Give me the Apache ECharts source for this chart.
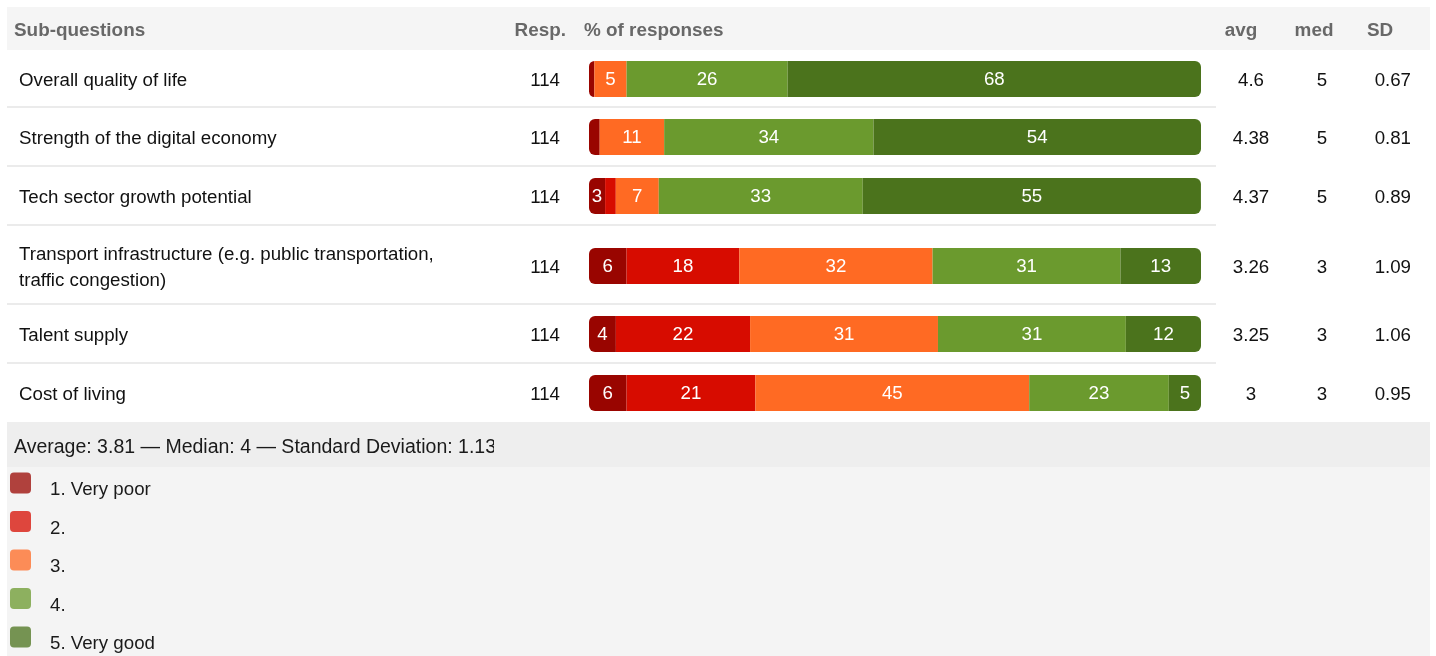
<!DOCTYPE html>
<html><head><meta charset="utf-8">
<script src="https://cdn.jsdelivr.net/npm/echarts@6/dist/echarts.min.js"></script>
<style>html,body{margin:0;padding:0;background:#fff}#c{width:1436px;height:656px}</style>
</head><body><div id="c"></div><script>
// ---- data ----
const subQuestions = [
  'Overall quality of life',
  'Strength of the digital economy',
  'Tech sector growth potential',
  'Transport infrastructure (e.g. public transportation,\ntraffic congestion)',
  'Talent supply',
  'Cost of living'
];
const responses = [114, 114, 114, 114, 114, 114];
const ratingNames = ['1. Very poor', '2.', '3.', '4.', '5. Very good'];
const pctVeryPoor = [0.88, 1.75, 2.63, 6.14, 4.39, 6.14];
const pct2 = [0, 0, 1.75, 18.42, 21.93, 21.05];
const pct3 = [5.26, 10.53, 7.02, 31.58, 30.70, 44.74];
const pct4 = [26.32, 34.21, 33.33, 30.70, 30.70, 22.81];
const pctVeryGood = [67.54, 53.51, 55.26, 13.16, 12.28, 5.26];
const avgValues = [4.6, 4.38, 4.37, 3.26, 3.25, 3];
const medValues = [5, 5, 5, 3, 3, 3];
const sdValues = [0.67, 0.81, 0.89, 1.09, 1.06, 0.95];
const headers = ['Sub-questions', 'Resp.', '% of responses', 'avg', 'med', 'SD'];
const summaryText = 'Average: 3.81 — Median: 4 — Standard Deviation: 1.13';

// ---- style / layout ----
const FONT = '"Liberation Sans", Arial, Helvetica, sans-serif';
const colors = ['#990500', '#d70c00', '#ff6a23', '#6b9a2e', '#4b731c'];
const pcts = [pctVeryPoor, pct2, pct3, pct4, pctVeryGood];
const rowTop = [50, 107, 166, 225, 304, 363];
const rowH = [57, 59, 59, 79, 59, 59];
const barH = 36, barLeft = 589, barW = 612;
const BODY = 18.7;

const grids = [], xAxes = [], yAxes = [], series = [], graphics = [];

// backgrounds
graphics.push({type:'rect', z:0, shape:{x:7, y:7, width:1423, height:43}, style:{fill:'#f5f5f5'}});
graphics.push({type:'rect', z:0, shape:{x:7, y:422, width:1423, height:45}, style:{fill:'#eeeeee'}});
graphics.push({type:'rect', z:0, shape:{x:7, y:467, width:1423, height:189}, style:{fill:'#f4f4f4'}});

const hStyle = {fontFamily: FONT, fontSize: 18.9, fontWeight: 'bold', fill: '#686868', verticalAlign: 'middle'};
const hy = 31;
graphics.push({type:'text', z:10, x:14, y:hy, style:Object.assign({text:headers[0], align:'left'}, hStyle)});
graphics.push({type:'text', z:10, x:566, y:hy, style:Object.assign({text:headers[1], align:'right'}, hStyle)});
graphics.push({type:'text', z:10, x:584, y:hy, style:Object.assign({text:headers[2], align:'left'}, hStyle)});
graphics.push({type:'text', z:10, x:1241, y:hy, style:Object.assign({text:headers[3], align:'center'}, hStyle)});
graphics.push({type:'text', z:10, x:1314, y:hy, style:Object.assign({text:headers[4], align:'center'}, hStyle)});
graphics.push({type:'text', z:10, x:1380, y:hy, style:Object.assign({text:headers[5], align:'center'}, hStyle)});

const bStyle = {fontFamily: FONT, fontSize: BODY, fill: '#111', verticalAlign: 'middle'};

subQuestions.forEach((q, i) => {
  const cy = rowTop[i] + rowH[i] / 2 + (i === 3 ? 1.5 : 0.5);
  const ty = cy + 1.5;
  grids.push({left: barLeft, width: barW, top: cy - barH / 2, height: barH});
  xAxes.push({gridIndex: i, type: 'value', min: 0, max: 100, show: false});
  yAxes.push({gridIndex: i, type: 'category', data: [q], show: false});
  pcts.forEach((arr, j) => {
    series.push({
      type: 'bar', name: ratingNames[j], stack: 'row' + i,
      xAxisIndex: i, yAxisIndex: i, barWidth: '100%', silent: true,
      data: [arr[i]],
      itemStyle: {color: colors[j], borderRadius: j === 0 ? [6, 0, 0, 6] : (j === 4 ? [0, 6, 6, 0] : 0)},
      label: {show: true, position: 'inside', color: '#fff', fontFamily: FONT, fontSize: BODY, offset: [0, 1],
        formatter: p => (p.value >= 2.5 ? String(Math.round(p.value)) : '')}
    });
  });
  graphics.push({type:'text', z:10, x:19, y:ty, style:Object.assign({text:q, align:'left', lineHeight:26}, bStyle)});
  graphics.push({type:'text', z:10, x:560, y:ty, style:Object.assign({text:String(responses[i]), align:'right'}, bStyle)});
  graphics.push({type:'text', z:10, x:1251, y:ty, style:Object.assign({text:String(avgValues[i]), align:'center'}, bStyle)});
  graphics.push({type:'text', z:10, x:1322, y:ty, style:Object.assign({text:String(medValues[i]), align:'center'}, bStyle)});
  graphics.push({type:'text', z:10, x:1411, y:ty, style:Object.assign({text:sdValues[i].toFixed(2), align:'right'}, bStyle)});
  if (i < subQuestions.length - 1) {
    graphics.push({type:'rect', z:1, shape:{x:7, y:rowTop[i] + rowH[i] - 1, width:1209, height:2}, style:{fill:'#ebebeb'}});
  }
});

// summary line (clipped like the original box)
graphics.push({type:'text', z:10, x:14, y:448, style:Object.assign({}, bStyle, {text:summaryText, align:'left', fontSize:19.5, fill:'#1a1a1a'})});
graphics.push({type:'rect', z:11, shape:{x:494, y:422, width:70, height:45}, style:{fill:'#eeeeee'}});

// legend
ratingNames.forEach((name, j) => {
  const top = 472.5 + 38.5 * j;
  graphics.push({type:'rect', z:10, shape:{x:10, y:top, width:21, height:21, r:4},
    style:{fill: colors[j], opacity: 0.75}});
  graphics.push({type:'text', z:10, x:50, y:top + 17.5,
    style:Object.assign({}, bStyle, {text:name, align:'left', fill:'#1a1a1a'})});
});

const chart = echarts.init(document.getElementById('c'), null, {renderer: 'canvas'});
chart.setOption({
  animation: false,
  backgroundColor: '#ffffff',
  grid: grids, xAxis: xAxes, yAxis: yAxes, series: series,
  graphic: graphics
});
</script></body></html>
